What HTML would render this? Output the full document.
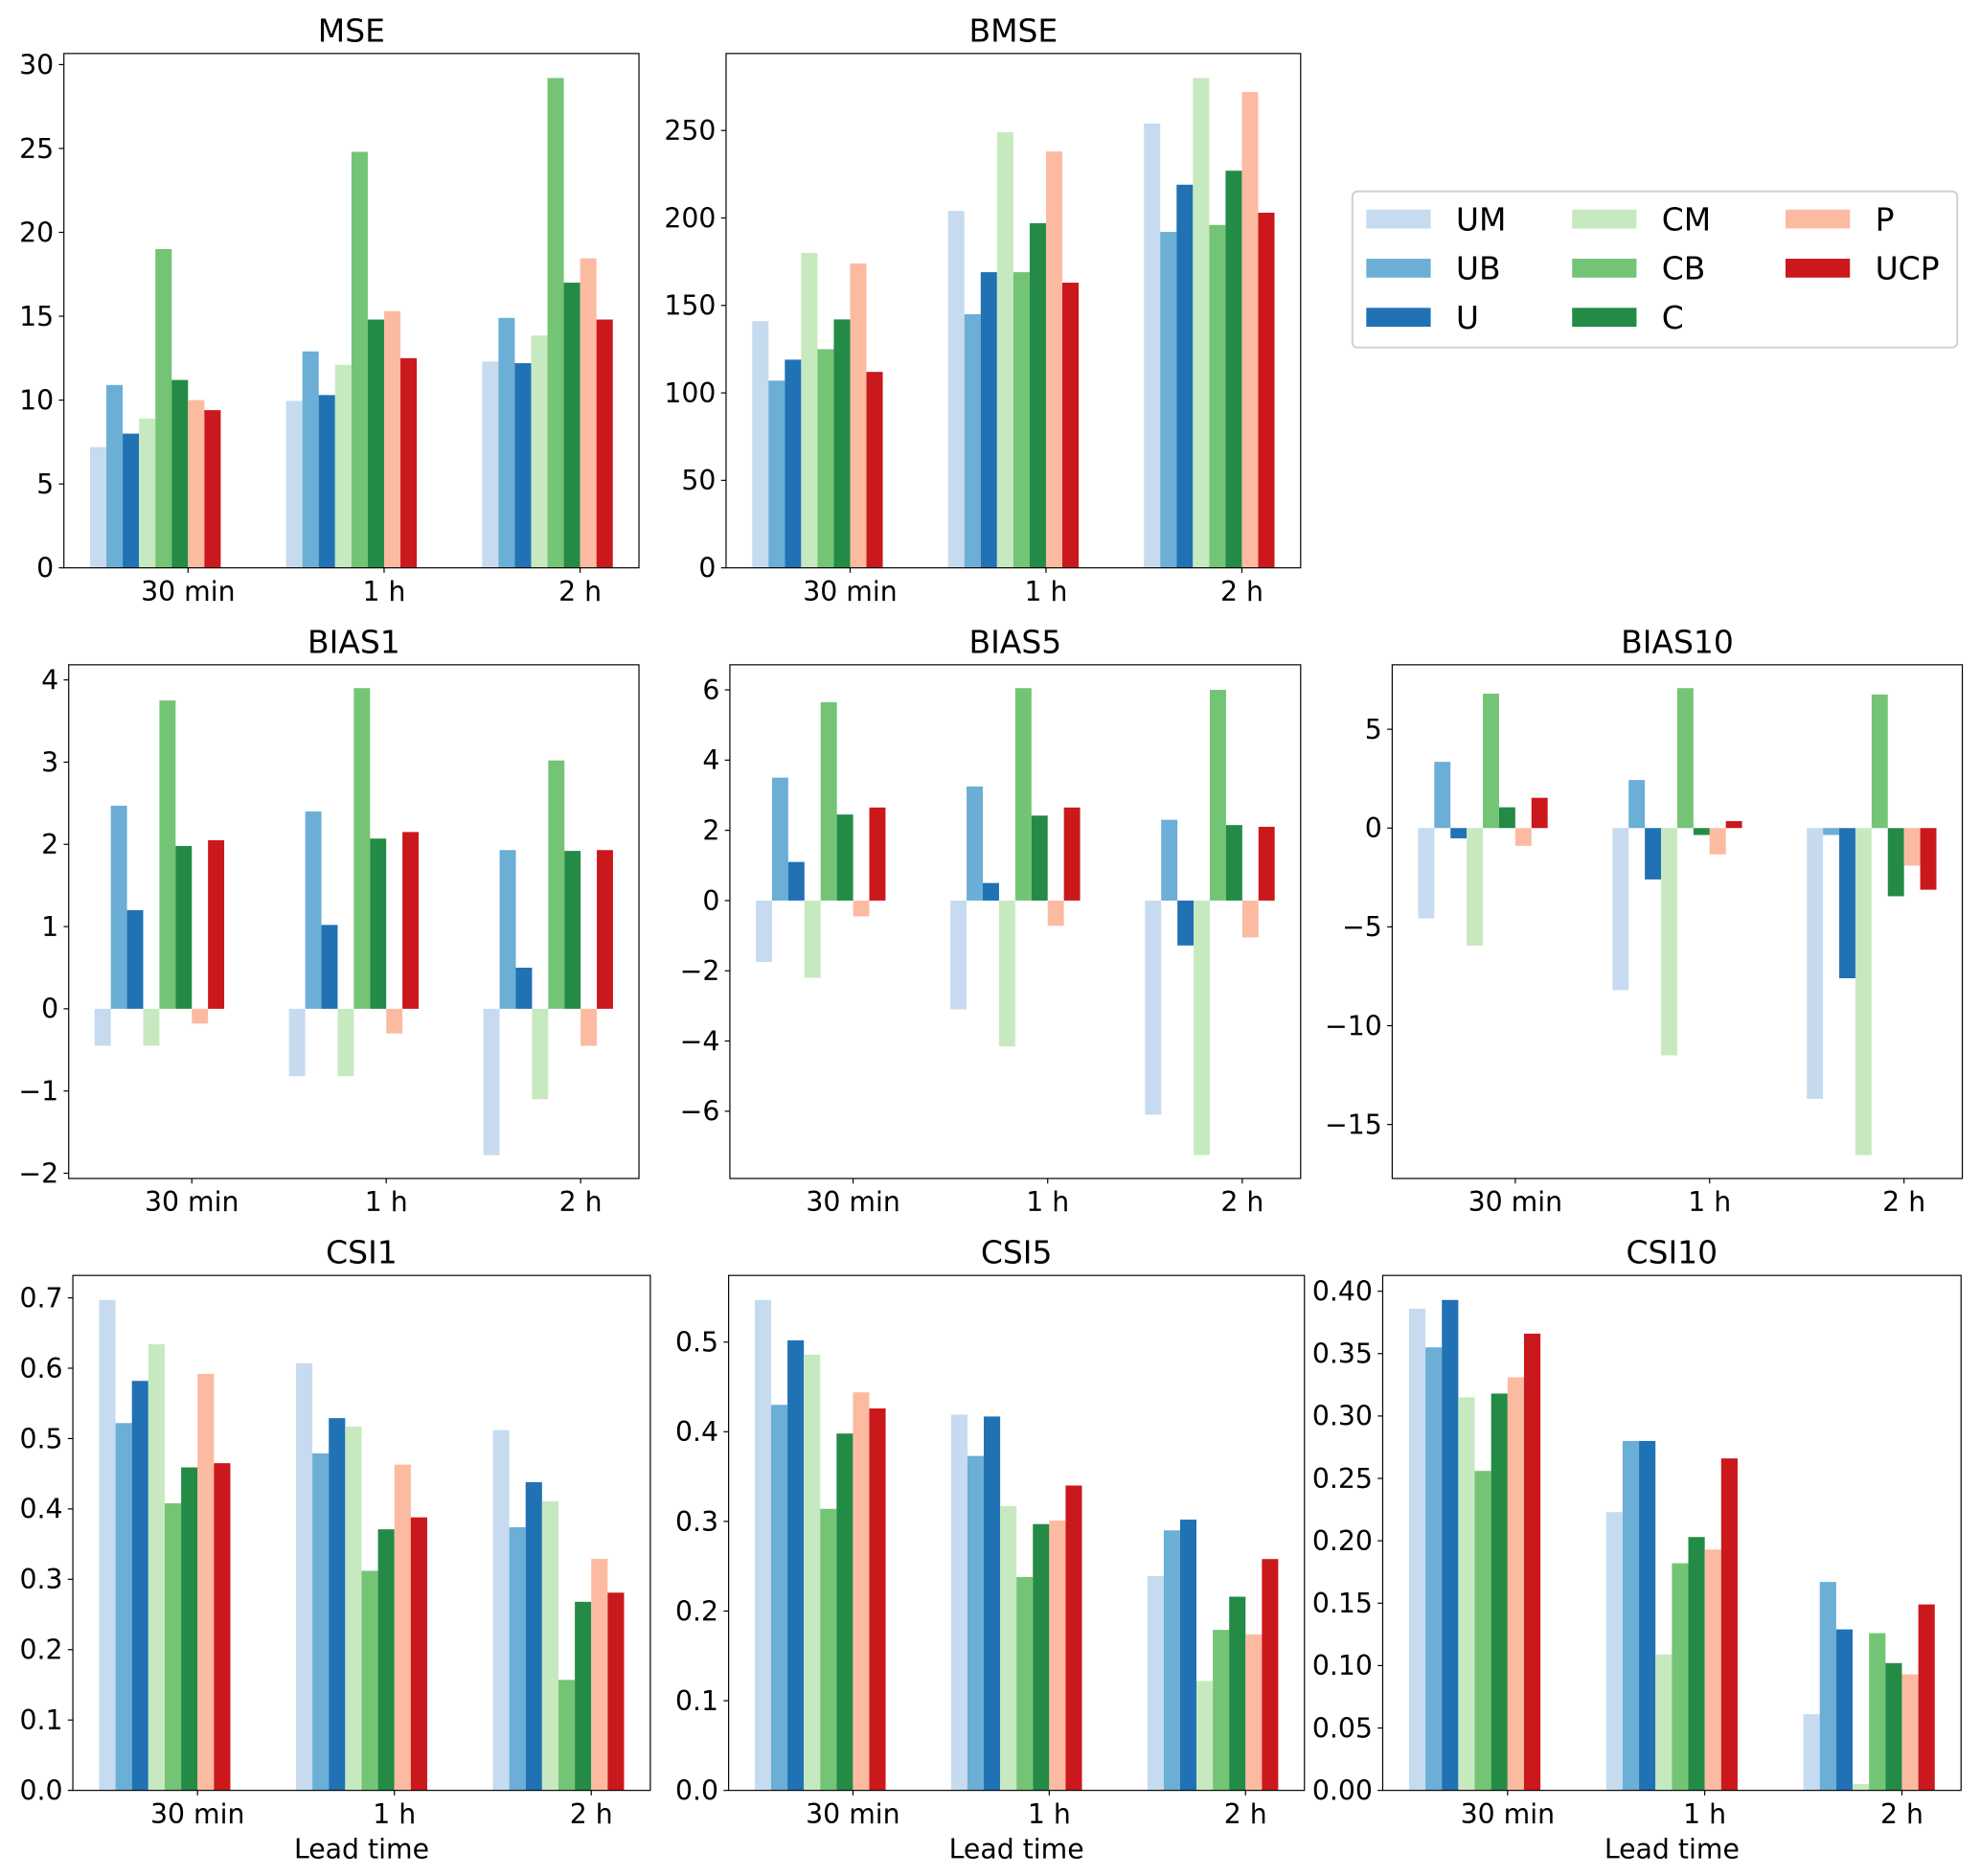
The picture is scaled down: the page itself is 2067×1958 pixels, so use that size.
<!DOCTYPE html>
<html><head><meta charset="utf-8"><style>
html,body{margin:0;padding:0;background:#fff;}
svg{display:block;font-family:"DejaVu Sans","Liberation Sans",sans-serif;}
</style></head><body>
<svg id="fig" width="2067" height="1958" viewBox="0 0 1568 1490" preserveAspectRatio="none" xmlns="http://www.w3.org/2000/svg"></svg>
<script>
const categories = ["30 min", "1 h", "2 h"];
const seriesNames = ["UM", "UB", "U", "CM", "CB", "C", "P", "UCP"];
const seriesColors = ["#c6dbef", "#6baed6", "#2171b5", "#c7e9c0", "#74c476", "#238b45", "#fcbba1", "#cb181d"];

// values per category: [UM, UB, U, CM, CB, C, P, UCP]
const mse30 = [7.2, 10.9, 8.0, 8.9, 19.0, 11.2, 10.0, 9.4];
const mse1h = [9.95, 12.9, 10.3, 12.1, 24.8, 14.8, 15.3, 12.5];
const mse2h = [12.3, 14.9, 12.2, 13.85, 29.2, 17.0, 18.45, 14.8];
const mseTicks = [0, 5, 10, 15, 20, 25, 30];

const bmse30 = [141, 107, 119, 180, 125, 142, 174, 112];
const bmse1h = [204, 145, 169, 249, 169, 197, 238, 163];
const bmse2h = [254, 192, 219, 280, 196, 227, 272, 203];
const bmseTicks = [0, 50, 100, 150, 200, 250];

const bias1_30 = [-0.45, 2.47, 1.2, -0.45, 3.75, 1.98, -0.18, 2.05];
const bias1_1h = [-0.82, 2.4, 1.02, -0.82, 3.9, 2.07, -0.3, 2.15];
const bias1_2h = [-1.78, 1.93, 0.5, -1.1, 3.02, 1.92, -0.45, 1.93];
const bias1Ticks = [-2, -1, 0, 1, 2, 3, 4];

const bias5_30 = [-1.75, 3.5, 1.1, -2.2, 5.65, 2.45, -0.45, 2.65];
const bias5_1h = [-3.1, 3.25, 0.5, -4.15, 6.05, 2.42, -0.72, 2.65];
const bias5_2h = [-6.1, 2.3, -1.28, -7.25, 6.0, 2.15, -1.05, 2.1];
const bias5Ticks = [-6, -4, -2, 0, 2, 4, 6];

const bias10_30 = [-4.57, 3.35, -0.52, -5.95, 6.8, 1.05, -0.9, 1.53];
const bias10_1h = [-8.2, 2.43, -2.6, -11.5, 7.08, -0.35, -1.33, 0.35];
const bias10_2h = [-13.7, -0.35, -7.6, -16.55, 6.76, -3.45, -1.9, -3.12];
const bias10Ticks = [-15, -10, -5, 0, 5];

const csi1_30 = [0.697, 0.522, 0.582, 0.634, 0.408, 0.459, 0.592, 0.465];
const csi1_1h = [0.607, 0.479, 0.529, 0.517, 0.312, 0.371, 0.463, 0.388];
const csi1_2h = [0.512, 0.374, 0.438, 0.411, 0.157, 0.268, 0.329, 0.281];
const csi1Ticks = [0, 0.1, 0.2, 0.3, 0.4, 0.5, 0.6, 0.7];

const csi5_30 = [0.547, 0.430, 0.502, 0.486, 0.314, 0.398, 0.444, 0.426];
const csi5_1h = [0.419, 0.373, 0.417, 0.317, 0.238, 0.297, 0.301, 0.340];
const csi5_2h = [0.239, 0.290, 0.302, 0.122, 0.179, 0.216, 0.174, 0.258];
const csi5Ticks = [0, 0.1, 0.2, 0.3, 0.4, 0.5];

const csi10_30 = [0.386, 0.355, 0.393, 0.315, 0.256, 0.318, 0.331, 0.366];
const csi10_1h = [0.223, 0.280, 0.280, 0.109, 0.182, 0.203, 0.193, 0.266];
const csi10_2h = [0.061, 0.167, 0.129, 0.005, 0.126, 0.102, 0.093, 0.149];
const csi10Ticks = [0, 0.05, 0.10, 0.15, 0.20, 0.25, 0.30, 0.35, 0.40];

const NS = "http://www.w3.org/2000/svg";
const svg = document.getElementById("fig");
function mk(tag, attrs, parent, text) {
  const e = document.createElementNS(NS, tag);
  for (const k in attrs) e.setAttribute(k, attrs[k]);
  if (text !== undefined) e.textContent = text;
  (parent || svg).appendChild(e);
  return e;
}
function fmt(v, dec) {
  let s = v.toFixed(dec);
  return s.replace("-", "\u2212");
}

function drawPanel(name, title, box, groups, ticks, dec, xlabel) {
  const g = mk("g", {});
  
  
  const all = [].concat(...groups);
  let mn = Math.min(0, ...all), mx = Math.max(0, ...all);
  let lo, hi;
  if (mn >= 0) { lo = 0; hi = mx * 1.05; }
  else { const r = mx - mn; lo = mn - 0.05 * r; hi = mx + 0.05 * r; }
  const xlo = -0.6333, xhi = 2.3;
  const X = v => box.x0 + (v - xlo) / (xhi - xlo) * (box.x1 - box.x0);
  const Y = v => box.y1 - (v - lo) / (hi - lo) * (box.y1 - box.y0);
  const w = 1 / 12;
  groups.forEach((vals, gi) => {
    vals.forEach((v, si) => {
      const left = gi - 0.5 + si * w;
      const xa = X(left), xb = X(left + w);
      const ya = Y(Math.max(v, 0)), yb = Y(Math.min(v, 0));
      const r = mk("rect", {x: xa, y: ya, width: xb - xa, height: Math.max(yb - ya, 0.01), fill: seriesColors[si]}, g);
      
      
    });
  });
  const frame = mk("rect", {x: box.x0, y: box.y0, width: box.x1 - box.x0, height: box.y1 - box.y0, fill: "none", stroke: "#000", "stroke-width": 0.9}, g);
  
  
  ticks.forEach(t => {
    const y = Y(t);
    mk("line", {x1: box.x0 - 4, x2: box.x0, y1: y, y2: y, stroke: "#000", "stroke-width": 0.9}, g);
    const tl = mk("text", {x: box.x0 - 8, y: y + 7.5, "text-anchor": "end", "font-size": 21.5}, g, fmt(t, dec));
    
    
  });
  categories.forEach((c, gi) => {
    const x = X(gi);
    mk("line", {x1: x, x2: x, y1: box.y1, y2: box.y1 + 4, stroke: "#000", "stroke-width": 0.9}, g);
    const tl = mk("text", {x: x, y: box.y1 + 26, "text-anchor": "middle", "font-size": 21.5}, g, c);
    
    
  });
  const tt = mk("text", {x: (box.x0 + box.x1) / 2, y: box.y0 - 9.5, "text-anchor": "middle", "font-size": 25}, g, title);
  
  
  if (xlabel) {
    const xl = mk("text", {x: (box.x0 + box.x1) / 2, y: box.y1 + 54, "text-anchor": "middle", "font-size": 21.5}, g, xlabel);
    
    
  }
}

const r1 = {y0: 42.5, y1: 451}, r2 = {y0: 528, y1: 936}, r3 = {y0: 1013, y1: 1422};
drawPanel("mse", "MSE", {x0: 50.6, x1: 506, ...r1}, [mse30, mse1h, mse2h], mseTicks, 0);
drawPanel("bmse", "BMSE", {x0: 575, x1: 1030, ...r1}, [bmse30, bmse1h, bmse2h], bmseTicks, 0);
drawPanel("bias1", "BIAS1", {x0: 54.4, x1: 506, ...r2}, [bias1_30, bias1_1h, bias1_2h], bias1Ticks, 0);
drawPanel("bias5", "BIAS5", {x0: 578, x1: 1030, ...r2}, [bias5_30, bias5_1h, bias5_2h], bias5Ticks, 0);
drawPanel("bias10", "BIAS10", {x0: 1102.5, x1: 1554, ...r2}, [bias10_30, bias10_1h, bias10_2h], bias10Ticks, 0);
drawPanel("csi1", "CSI1", {x0: 57.7, x1: 515, ...r3}, [csi1_30, csi1_1h, csi1_2h], csi1Ticks, 1, "Lead time");
drawPanel("csi5", "CSI5", {x0: 577, x1: 1033, ...r3}, [csi5_30, csi5_1h, csi5_2h], csi5Ticks, 1, "Lead time");
drawPanel("csi10", "CSI10", {x0: 1095, x1: 1553, ...r3}, [csi10_30, csi10_1h, csi10_2h], csi10Ticks, 2, "Lead time");

// legend
const lg = mk("g", {});


mk("rect", {x: 1071, y: 152, width: 479, height: 124, rx: 4, fill: "#fff", stroke: "#d0d0d0", "stroke-width": 1.5}, lg);
const colX = [1082, 1245, 1414];
const rowY = [174, 213, 252];
seriesNames.forEach((n, i) => {
  const c = Math.floor(i / 3), r = i % 3;
  const e = mk("g", {}, lg);
  
  
  mk("rect", {x: colX[c], y: rowY[r] - 7.5, width: 51, height: 15, fill: seriesColors[i]}, e);
  mk("text", {x: colX[c] + 71, y: rowY[r] + 9, "font-size": 25}, e, n);
});
</script>
</body></html>
